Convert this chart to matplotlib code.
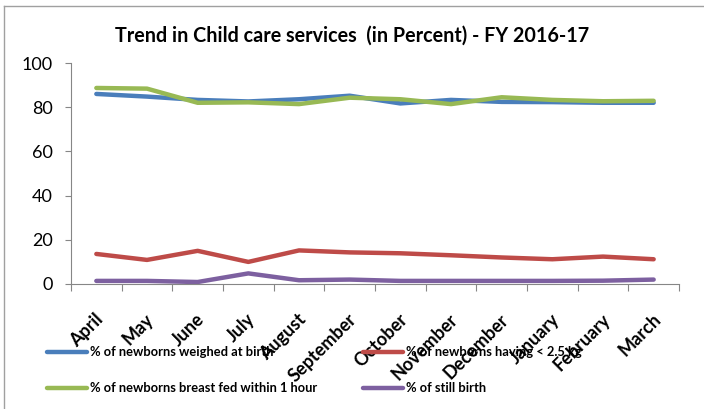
import matplotlib
matplotlib.use("Agg")
import matplotlib.pyplot as plt
from matplotlib.lines import Line2D
from matplotlib.transforms import ScaledTranslation

# Datos
meses = ["April", "May", "June", "July", "August", "September",
         "October", "November", "December", "January", "February", "March"]
pesados = [86, 84.8, 83.3, 82.6, 83.6, 85.2, 81.7, 83.3, 82.4, 82.3, 82.0, 82.0]
bajo_peso = [13.6, 10.9, 15.0, 10.0, 15.2, 14.3, 13.9, 13.0, 12.0, 11.2, 12.4, 11.2]
lactancia = [88.7, 88.4, 82.0, 82.2, 81.4, 84.3, 83.6, 81.4, 84.5, 83.3, 82.7, 82.9]
mortinatos = [1.4, 1.4, 0.9, 4.8, 1.7, 2.0, 1.4, 1.4, 1.4, 1.4, 1.5, 2.0]

series = [
    ("% of newborns weighed at birth", pesados, "#4a7ebb"),
    ("% of newborns having < 2.5 kg", bajo_peso, "#be4b48"),
    ("% of newborns breast fed within 1 hour", lactancia, "#98b954"),
    ("% of still birth", mortinatos, "#7d60a0"),
]

plt.rcParams["font.family"] = ["Lato", "DejaVu Sans"]

fig = plt.figure(figsize=(7.04, 4.09), dpi=100)
ax = fig.add_axes([71 / 704, 1 - 284 / 409, (679 - 71) / 704, (284 - 63) / 409])

x = list(range(len(meses)))
for nombre, valores, color in series:
    ax.plot(x, valores, color=color, linewidth=3.2, solid_capstyle="round", label=nombre)

ax.set_xlim(-0.5, len(meses) - 0.5)
ax.set_ylim(0, 100)
ax.set_yticks([0, 20, 40, 60, 80, 100])
ax.tick_params(axis="y", labelsize=13, length=4, color="#868686", pad=9)

# Marcas entre categorias y etiquetas centradas
ax.set_xticks([i - 0.5 for i in range(len(meses) + 1)])
ax.set_xticklabels([])
ax.tick_params(axis="x", length=5, color="#868686", direction="out")
ax.set_xticks(x, minor=True)
etiquetas = ax.set_xticklabels(meses, minor=True, rotation=45, ha="right", va="center",
                               rotation_mode="anchor", fontsize=13, fontweight="bold")
ax.tick_params(axis="x", which="minor", length=0, pad=19)
desplazamiento = ScaledTranslation(3 / 72, -4.5 / 72, fig.dpi_scale_trans)
for etiqueta in etiquetas:
    etiqueta.set_transform(etiqueta.get_transform() + desplazamiento)

for lado in ["top", "right"]:
    ax.spines[lado].set_visible(False)
for lado in ["left", "bottom"]:
    ax.spines[lado].set_color("#868686")

fig.text(0.5, 1 - 36 / 409, "Trend in Child care services  (in Percent) - FY 2016-17",
         ha="center", va="center", fontsize=14.2, fontweight="bold")

# Leyenda manual en dos filas
for i, (nombre, valores, color) in enumerate(series):
    col = i % 2
    fila = i // 2
    x0 = [47, 363][col]
    y0 = [352, 388][fila]
    fig.add_artist(Line2D([x0 / 704, (x0 + 40) / 704], [1 - y0 / 409, 1 - y0 / 409],
                          color=color, linewidth=3.2, solid_capstyle="round"))
    fig.text((x0 + 43) / 704, 1 - y0 / 409, nombre, ha="left", va="center",
             fontsize=9.3, fontweight="bold")

# Borde del area del grafico
fig.add_artist(Line2D([4 / 704, 4 / 704], [0, 1 - 6 / 409], color="#a0a0a0", linewidth=1))
fig.add_artist(Line2D([4 / 704, 1], [1 - 6 / 409, 1 - 6 / 409], color="#a0a0a0", linewidth=1))

fig.savefig("out.png", dpi=100)
